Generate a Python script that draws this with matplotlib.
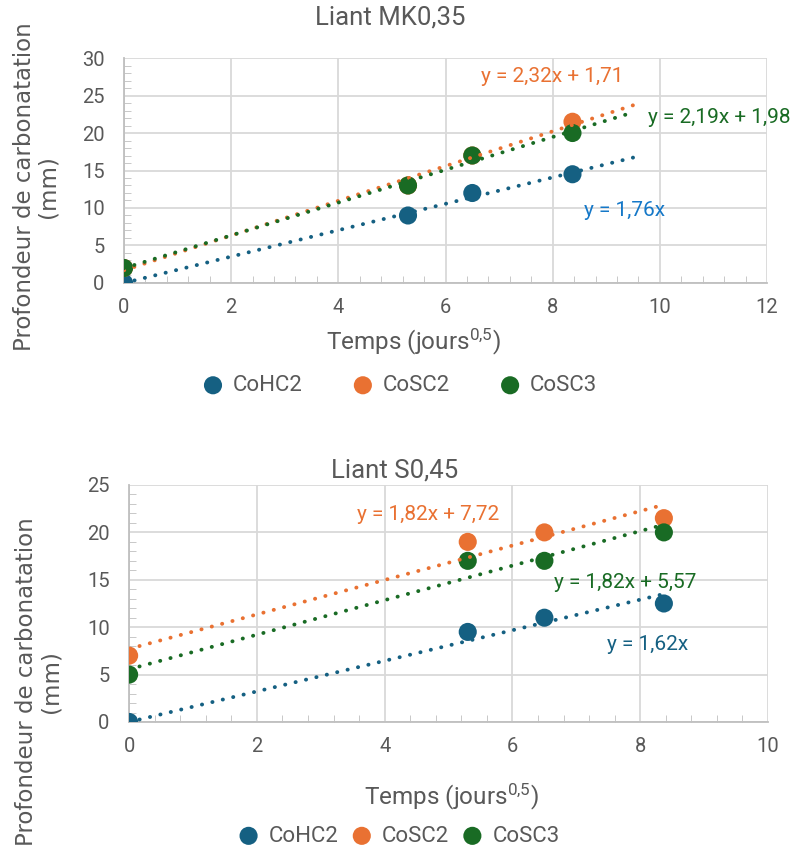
import numpy as np
import matplotlib.pyplot as plt
from matplotlib.ticker import MultipleLocator

# Data
x_time = [0, 5.3, 6.5, 8.37]

mk_cohc2 = [0, 9, 12, 14.5]
mk_cosc2 = [2, 13, 17, 21.5]
mk_cosc3 = [2, 13, 17, 20]

s_cohc2 = [0, 9.5, 11, 12.5]
s_cosc2 = [7, 19, 20, 21.5]
s_cosc3 = [5, 17, 17, 20]

series_names = ['CoHC2', 'CoSC2', 'CoSC3']
colors = ['#156082', '#E97132', '#196B24']
gray = '#595959'

plt.rcParams['font.family'] = ['Roboto', 'DejaVu Sans']
plt.rcParams['mathtext.fontset'] = 'custom'
plt.rcParams['mathtext.rm'] = 'Roboto'
plt.rcParams['mathtext.it'] = 'Roboto'

fig = plt.figure(figsize=(8.07, 8.47), dpi=100)
ax1 = fig.add_axes([0.1537, 0.6659, 0.7967, 0.2656])
ax2 = fig.add_axes([0.1600, 0.1476, 0.7917, 0.2798])


def trend(x, y, through_origin):
    x = np.asarray(x, float)
    y = np.asarray(y, float)
    if through_origin:
        return np.sum(x * y) / np.sum(x * x), 0.0
    m, b = np.polyfit(x, y, 1)
    return m, b


def draw(ax, ys, origin_flags, forward, xmax, ymax, title, title_x, title_y):
    for y, c, name in zip(ys, colors, series_names):
        ax.scatter(x_time, y, s=170, color=c, zorder=3, label=name,
                   edgecolors='none')
    for y, c, orig in zip(ys, colors, origin_flags):
        m, b = trend(x_time, y, orig)
        xx = np.array([0, x_time[-1] + forward])
        ax.plot(xx, m * xx + b, color=c, lw=2.8, ls=(0, (0.05, 2.7)),
                dash_capstyle='round', zorder=4)
    ax.set_xlim(0, xmax)
    ax.set_ylim(0, ymax)
    ax.xaxis.set_major_locator(MultipleLocator(2))
    ax.xaxis.set_minor_locator(MultipleLocator(0.4))
    ax.yaxis.set_major_locator(MultipleLocator(5))
    ax.yaxis.set_minor_locator(MultipleLocator(1))
    ax.grid(True, which='major', color='#d9d9d9', lw=1.3)
    ax.set_axisbelow(True)
    for sp in ['top', 'right']:
        ax.spines[sp].set_visible(False)
    for sp in ['left', 'bottom']:
        ax.spines[sp].set_color('#bfbfbf')
        ax.spines[sp].set_linewidth(1.3)
    ax.tick_params(which='major', length=0, labelsize=14.5, labelcolor=gray)
    ax.tick_params(axis='y', which='major', pad=14)
    ax.tick_params(axis='x', which='major', pad=11)
    ax.tick_params(which='minor', length=5, direction='in', color='#bfbfbf')
    ax.text(title_x, title_y, title, transform=ax.transAxes, fontsize=18.5,
            color=gray, ha='center', va='center')
    ax.set_ylabel('Profondeur de carbonatation\n(mm)', fontsize=16.5,
                  color=gray, family='DejaVu Sans', linespacing=1.05)
    ax.set_xlabel('Temps (jours$^{0{,}5}$)', fontsize=17.5, color=gray)


draw(ax1, [mk_cohc2, mk_cosc2, mk_cosc3], [True, False, False], 1.13, 12, 30,
     'Liant MK0,35', 0.414, 1.178)
draw(ax2, [s_cohc2, s_cosc2, s_cosc3], [True, False, False], 0.0, 10, 25,
     'Liant S0,45', 0.416, 1.06)

ax1.yaxis.set_label_coords(-0.1, 0.43)
ax1.xaxis.set_label_coords(0.45, -0.195)
ax2.yaxis.set_label_coords(-0.105, 0.17)
ax2.xaxis.set_label_coords(0.505, -0.25)

# Trendline equations
ax1.text(8.0, 27.6, 'y = 2,32x + 1,71', color='#E97132', fontsize=15,
         ha='center', va='center')
ax1.text(9.78, 22.1, 'y = 2,19x + 1,98', color='#196B24', fontsize=15,
         ha='left', va='center', clip_on=False)
ax1.text(9.35, 9.7, 'y = 1,76x', color='#1578C8', fontsize=15,
         ha='center', va='center')

ax2.text(4.68, 21.9, 'y = 1,82x + 7,72', color='#E97132', fontsize=15,
         ha='center', va='center')
ax2.text(7.76, 14.7, 'y = 1,82x + 5,57', color='#196B24', fontsize=15,
         ha='center', va='center')
ax2.text(8.12, 8.2, 'y = 1,62x', color='#156082', fontsize=15,
         ha='center', va='center')

for ax, xpos, ypos, colsp in [(ax1, 0.42, -0.37, 1.7), (ax2, 0.413, -0.40, 0.05)]:
    ax.legend(loc='upper center', bbox_to_anchor=(xpos, ypos), ncol=3,
              frameon=False, fontsize=16, labelcolor=gray,
              handletextpad=-0.1, columnspacing=colsp, markerscale=1.0,
              borderaxespad=0)

fig.savefig('out.png', dpi=100)
